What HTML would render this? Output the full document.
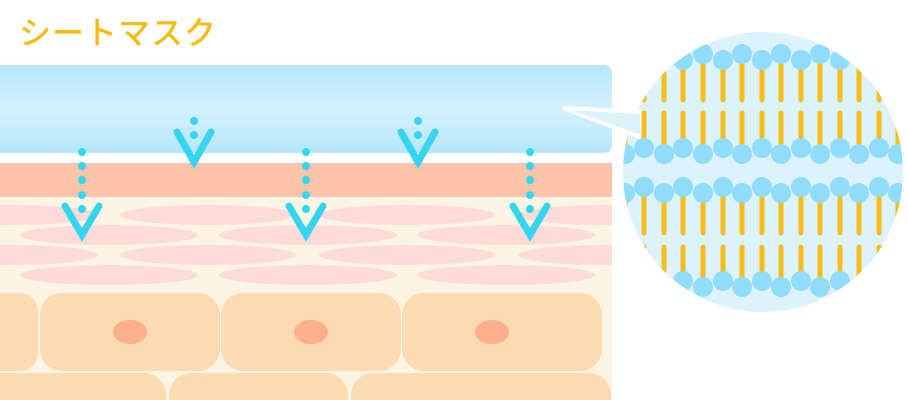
<!DOCTYPE html>
<html><head><meta charset="utf-8"><style>
html,body{margin:0;padding:0;background:#fff;width:908px;height:400px;overflow:hidden}
svg{display:block}
</style></head><body>
<svg width="908" height="400" viewBox="0 0 908 400" xmlns="http://www.w3.org/2000/svg">
<defs>
<linearGradient id="mg" x1="0" y1="0" x2="0" y2="1">
<stop offset="0" stop-color="#b5e6fb"/><stop offset="0.5" stop-color="#d3f1fd"/><stop offset="1" stop-color="#b5e6fb"/>
</linearGradient>
<clipPath id="cc"><circle cx="763" cy="172" r="140"/></clipPath>
<clipPath id="sk"><rect x="0" y="160" width="612" height="240"/></clipPath>
</defs>
<text x="19" y="44" font-family="'Liberation Sans','Noto Sans CJK JP',sans-serif" font-size="32" font-weight="500" letter-spacing="1" fill="#f7bb17">シートマスク</text>
<rect x="-10" y="65" width="622" height="88" rx="8" fill="url(#mg)"/>
<g clip-path="url(#sk)">
<rect x="0" y="163" width="612" height="34" fill="#fdc4aa"/>
<rect x="0" y="197" width="612" height="210" fill="#fdf5e3"/>
<g fill="#fddbd9">
<ellipse cx="10" cy="215" rx="88" ry="10"/><ellipse cx="208" cy="215" rx="88" ry="10"/><ellipse cx="407" cy="215" rx="88" ry="10"/><ellipse cx="606" cy="215" rx="88" ry="10"/>
<ellipse cx="109" cy="235" rx="89" ry="10"/><ellipse cx="308" cy="235" rx="89" ry="10"/><ellipse cx="506" cy="235" rx="89" ry="10"/>
<ellipse cx="10" cy="255" rx="88" ry="10"/><ellipse cx="208" cy="255" rx="88" ry="10"/><ellipse cx="407" cy="255" rx="88" ry="10"/><ellipse cx="606" cy="255" rx="88" ry="10"/>
<ellipse cx="109" cy="275" rx="89" ry="10"/><ellipse cx="308" cy="275" rx="89" ry="10"/><ellipse cx="506" cy="275" rx="89" ry="10"/>
</g>
<g fill="#fddbb2">
<rect x="-20" y="293" width="58" height="78" rx="18"/>
<rect x="40" y="293" width="180" height="78" rx="22"/>
<rect x="221" y="293" width="180" height="78" rx="22"/>
<rect x="402" y="293" width="200" height="78" rx="22"/>
<rect x="-20" y="373" width="186" height="60" rx="22"/>
<rect x="169" y="373" width="179" height="60" rx="22"/>
<rect x="351" y="373" width="260" height="60" rx="22"/>
</g>
<g fill="#fdae8a">
<ellipse cx="130" cy="332" rx="17" ry="12"/><ellipse cx="311" cy="332" rx="17" ry="12"/><ellipse cx="492" cy="332" rx="17" ry="12"/>
</g>
</g>
<g fill="#33d6ee">
<circle cx="82" cy="152" r="4"/><circle cx="82" cy="166" r="4"/><circle cx="82" cy="180" r="4"/><circle cx="82" cy="195" r="4"/><circle cx="82" cy="209" r="4"/>
<circle cx="306" cy="152" r="4"/><circle cx="306" cy="166" r="4"/><circle cx="306" cy="180" r="4"/><circle cx="306" cy="195" r="4"/><circle cx="306" cy="209" r="4"/>
<circle cx="530" cy="152" r="4"/><circle cx="530" cy="166" r="4"/><circle cx="530" cy="180" r="4"/><circle cx="530" cy="195" r="4"/><circle cx="530" cy="209" r="4"/>
<circle cx="194" cy="121" r="4"/><circle cx="194" cy="135" r="4"/>
<circle cx="418" cy="121" r="4"/><circle cx="418" cy="135" r="4"/>
</g>
<g fill="none" stroke="#33d6ee" stroke-width="7" stroke-linecap="round" stroke-linejoin="miter">
<path d="M65 206 L82 235 L99 206"/><path d="M289 206 L306 235 L323 206"/><path d="M513 206 L530 235 L547 206"/>
<path d="M177 132 L194 162 L211 132"/><path d="M401 132 L418 162 L435 132"/>
</g>
<circle cx="763" cy="172" r="140" fill="#dcf3fc"/>
<path d="M563 108 L640 112 L640 137 Z" fill="#dcf3fc" stroke="#fff" stroke-width="4" stroke-linejoin="miter"/>
<path d="M570 110 L640 114 L640 134 Z" fill="#dcf3fc"/>
<g clip-path="url(#cc)">
<g stroke="#f7bd17" stroke-width="5" stroke-linecap="round">
<path d="M605 62V100M605 113V144M625 62V100M625 113V144M644 62V100M644 113V144M664 62V100M664 113V144M683 62V100M683 113V144M703 62V100M703 113V144M723 62V100M723 113V144M742 62V100M742 113V144M762 62V100M762 113V144M781 62V100M781 113V144M801 62V100M801 113V144M820 62V100M820 113V144M840 62V100M840 113V144M859 62V100M859 113V144M879 62V100M879 113V144M898 62V100M898 113V144"/>
<path d="M605 196V233M605 247V278M625 196V233M625 247V278M644 196V233M644 247V278M664 196V233M664 247V278M683 196V233M683 247V278M703 196V233M703 247V278M723 196V233M723 247V278M742 196V233M742 247V278M762 196V233M762 247V278M781 196V233M781 247V278M801 196V233M801 247V278M820 196V233M820 247V278M840 196V233M840 247V278M859 196V233M859 247V278M879 196V233M879 247V278M898 196V233M898 247V278"/>
</g>
<g fill="#8fdcfb">
<circle cx="605" cy="60" r="10"/><circle cx="625" cy="54" r="10"/><circle cx="644" cy="60" r="10"/><circle cx="664" cy="54" r="10"/><circle cx="683" cy="60" r="10"/><circle cx="703" cy="54" r="10"/><circle cx="723" cy="60" r="10"/><circle cx="742" cy="54" r="10"/><circle cx="762" cy="60" r="10"/><circle cx="781" cy="54" r="10"/><circle cx="801" cy="60" r="10"/><circle cx="820" cy="54" r="10"/><circle cx="840" cy="60" r="10"/><circle cx="859" cy="54" r="10"/><circle cx="879" cy="60" r="10"/><circle cx="898" cy="54" r="10"/>
<circle cx="605" cy="148" r="10"/><circle cx="625" cy="154" r="10"/><circle cx="644" cy="148" r="10"/><circle cx="664" cy="154" r="10"/><circle cx="683" cy="148" r="10"/><circle cx="703" cy="154" r="10"/><circle cx="723" cy="148" r="10"/><circle cx="742" cy="154" r="10"/><circle cx="762" cy="148" r="10"/><circle cx="781" cy="154" r="10"/><circle cx="801" cy="148" r="10"/><circle cx="820" cy="154" r="10"/><circle cx="840" cy="148" r="10"/><circle cx="859" cy="154" r="10"/><circle cx="879" cy="148" r="10"/><circle cx="898" cy="154" r="10"/>
<circle cx="605" cy="187" r="10"/><circle cx="625" cy="193" r="10"/><circle cx="644" cy="187" r="10"/><circle cx="664" cy="193" r="10"/><circle cx="683" cy="187" r="10"/><circle cx="703" cy="193" r="10"/><circle cx="723" cy="187" r="10"/><circle cx="742" cy="193" r="10"/><circle cx="762" cy="187" r="10"/><circle cx="781" cy="193" r="10"/><circle cx="801" cy="187" r="10"/><circle cx="820" cy="193" r="10"/><circle cx="840" cy="187" r="10"/><circle cx="859" cy="193" r="10"/><circle cx="879" cy="187" r="10"/><circle cx="898" cy="193" r="10"/>
<circle cx="605" cy="281" r="10"/><circle cx="625" cy="287" r="10"/><circle cx="644" cy="281" r="10"/><circle cx="664" cy="287" r="10"/><circle cx="683" cy="281" r="10"/><circle cx="703" cy="287" r="10"/><circle cx="723" cy="281" r="10"/><circle cx="742" cy="287" r="10"/><circle cx="762" cy="281" r="10"/><circle cx="781" cy="287" r="10"/><circle cx="801" cy="281" r="10"/><circle cx="820" cy="287" r="10"/><circle cx="840" cy="281" r="10"/><circle cx="859" cy="287" r="10"/><circle cx="879" cy="281" r="10"/><circle cx="898" cy="287" r="10"/>
</g>
</g>
</svg>
</body></html>
